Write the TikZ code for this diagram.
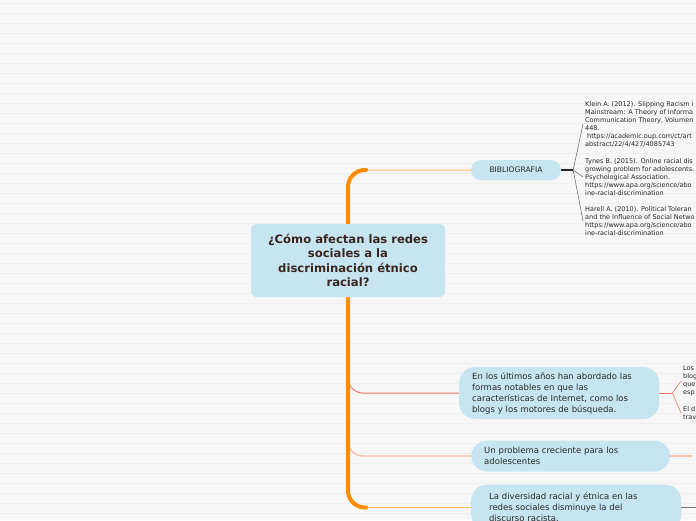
\documentclass[tikz,border=0pt]{standalone}
\usepackage{fontspec}
\setmainfont{DejaVu Sans}
\usetikzlibrary{positioning,calc,backgrounds}
\definecolor{topicblue}{RGB}{198,229,240}
\definecolor{paper}{RGB}{247,247,247}
\definecolor{ruleline}{RGB}{239,239,239}
\definecolor{trunkorange}{RGB}{255,140,0}
\definecolor{lightorange}{RGB}{255,188,110}
\definecolor{branchred}{RGB}{240,120,105}
\definecolor{branchsalmon}{RGB}{248,192,172}
\definecolor{rootbrown}{RGB}{58,38,32}
\definecolor{textdark}{RGB}{40,40,40}
\tikzset{
  root/.style={fill=topicblue, rounded corners=5pt, text=rootbrown, align=center,
    font=\bfseries\fontsize{11.6}{14.5}\selectfont, minimum width=194pt, minimum height=73pt, inner sep=0pt},
  topic/.style={fill=topicblue, rounded corners=16pt, text=textdark, align=left,
    font=\fontsize{8.5}{11}\selectfont, inner ysep=0pt, anchor=west},
  pill/.style={fill=topicblue, rounded corners=10pt, text=textdark,
    font=\fontsize{7.6}{9}\selectfont, minimum width=90pt, minimum height=20pt, inner sep=0pt},
  refnote/.style={text=textdark, align=left, font=\fontsize{6.5}{8}\selectfont, inner sep=2pt, anchor=west},
  trunk/.style={trunkorange, line width=4pt, line cap=round},
  twig/.style={#1, line width=1pt},
  fanline/.style={black!55, line width=0.6pt}
}

\begin{document}
\begin{tikzpicture}[x=1pt,y=-1pt]
  \useasboundingbox (0,0) rectangle (696,520);

  % ---- topics ----
  \node[root] (q) at (348,260.5) {¿Cómo afectan las redes\\sociales a la\\discriminación étnico\\racial?};
  \node[pill] (bib) at (516,170) {BIBLIOGRAFIA};
  \node[topic, text width=174pt, inner xsep=13pt, minimum height=52pt] (blogs) at (459,393)
    {En los últimos años han abordado las\\formas notables en que las\\características de Internet, como los\\blogs y los motores de búsqueda.};
  \node[topic, text width=173pt, inner xsep=13pt, minimum height=31pt] (young) at (471,456)
    {Un problema creciente para los\\adolescentes};
  \node[topic, text width=174pt, inner xsep=18pt, minimum height=46pt] (div) at (471,507.5)
    {La diversidad racial y étnica en las\\redes sociales disminuye la del\\discurso racista.};

  % ---- references ----
  \node[refnote] (klein) at (583,124) {Klein A. (2012). Slipping Racism i\\Mainstream: A Theory of Informa\\Communication Theory, Volumen\\448.\\\hspace{2pt}https://academic.oup.com/ct/art\\abstract/22/4/427/4085743};
  \node[refnote] (tynes) at (583,177) {Tynes B. (2015). Online racial dis\\growing problem for adolescents.\\Psychological Association.\\https://www.apa.org/science/abo\\ine-racial-discrimination};
  \node[refnote] (harell) at (583,221) {Harell A. (2010). Political Toleran\\and the Influence of Social Netwo\\https://www.apa.org/science/abo\\ine-racial-discrimination};
  \node[refnote] (los) at (681,381) {Los\\blog\\que\\esp};
  \node[refnote] (eld) at (681,413) {El d\\trav};

  \begin{scope}[on background layer]
    % ---- paper ----
    \fill[paper] (0,0) rectangle (696,520);
    \foreach \y in {3.5,13.5,...,513.5} \draw[ruleline, line width=1pt] (0,\y) -- (696,\y);

    % ---- branches ----
    \draw[twig=lightorange, rounded corners=18pt] (q.north) |- (bib.west);
    \draw[twig=lightorange, rounded corners=18pt] (q.south) |- (div.west);
    \draw[twig=branchred, rounded corners=15pt] ($(q.south |- blogs.west)+(0,-20)$) |- (blogs.west);
    \draw[twig=branchsalmon, line width=1.4pt, rounded corners=15pt] ($(q.south |- young.west)+(0,-20)$) |- (young.west);
    \draw[trunk, rounded corners=17pt] ($(q.north |- bib.west)+(18,0)$) -- (q.north |- bib.west)
      -- (q.south |- div.west) -- ++(18,0);

    % ---- right side ----
    \draw[black!85, line width=1.3pt] (bib.east) -- ++(12,0) coordinate (bibfork);
    \foreach \r in {klein,tynes,harell} \draw[fanline] (bibfork) -- (\r.west);
    \draw[twig=branchred] (blogs.east) -- ++(13,0) coordinate (blogsfork);
    \foreach \r in {los,eld} \draw[twig=branchred, line width=0.6pt] (blogsfork) -- (\r.west);
    \draw[twig=branchsalmon, line width=1.6pt] (young.east) -- ++(22,0) coordinate (youngend);
    \draw[black!55, line width=1pt] (div.east) -- ++(20,0) coordinate (divend);
  \end{scope}
\end{tikzpicture}
\end{document}
